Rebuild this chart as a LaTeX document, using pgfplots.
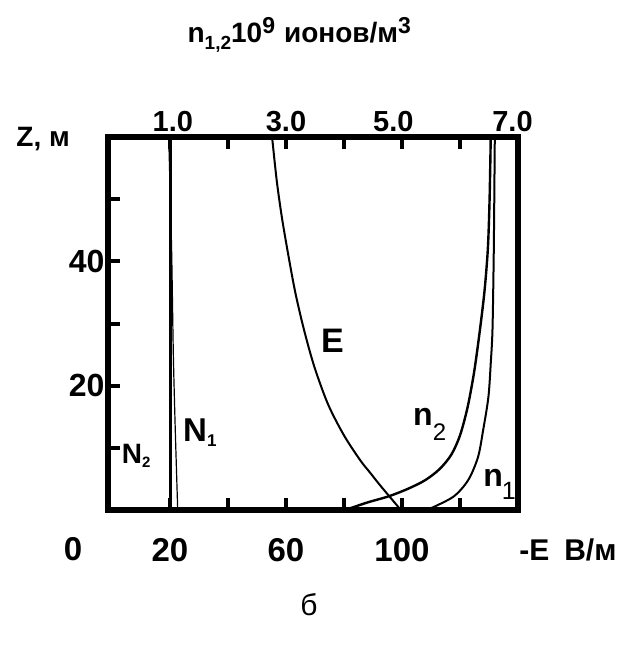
\documentclass[border=0pt]{standalone}
\usepackage{fontspec}
\setmainfont{Liberation Sans}
\usepackage{pgfplots}
\pgfplotsset{compat=1.18}

\newcommand{\fs}[1]{\fontsize{#1}{#1}\selectfont}

% field strength E, V/m (top scale: 1 unit = 20 V/m)
\pgfplotstableread{
x     z
4.98  0
4.80  2
4.62  4
4.45  6
4.28  8
4.00  12
3.725 17
3.49  23
3.31  29
3.16  35
3.04  41
2.93  47
2.84  53
2.76  60
}\Efield
% ion density n2
\pgfplotstableread{
x     z
4.02  0
4.40  1.2
4.77  2.2
5.10  3.4
5.40  4.8
5.65  6.6
5.85  8.9
6.00  12.0
6.13  16.5
6.24  22
6.33  28
6.42  35
6.48  42
6.51  50
6.53  60
}\ntwo
% ion density n1
\pgfplotstableread{
x     z
5.43  0
5.88  2.1
6.14  4.8
6.31  8.5
6.40  12.9
6.49  18.2
6.53  23.6
6.56  29
6.58  40
6.59  49
6.60  60
}\none
% N1 profile
\pgfplotstableread{
x     z
1.133 0
1.115 5.4
1.086 14.5
1.057 25.3
1.029 41.3
1.000 52
0.978 60
}\None

\begin{document}
\begin{tikzpicture}
\path[use as bounding box] (-108pt,-140pt) rectangle (511pt,510pt);
\begin{axis}[
  at={(0pt,0pt)}, anchor=south west,
  scale only axis, width=410pt, height=373pt,
  xmin=-0.069, xmax=7.0, ymin=0, ymax=60,
  clip=false,
  axis line style={line width=5.5pt, line cap=rect},
  major tick length=12pt,
  tick style={black, line width=4pt},
  tick align=inside,
  xtick={1,2,3,4,5,6}, xticklabels={20,,60,,100,},
  ytick={10,20,30,40,50}, yticklabels={,20,,40,},
  ytick pos=left, xtick pos=both,
  xticklabel pos=lower,
  /pgf/number format/assume math mode=true,
  xticklabel style={font=\fs{33}\bfseries, anchor=base, yshift=-51pt, inner sep=0pt},
  yticklabel style={font=\fs{32}\bfseries},
]
\addplot[line width=3pt] coordinates {(1.01,0) (1.01,60)};
\addplot[line width=1.2pt, smooth] table[x=x,y=z] {\None};
\addplot[line width=2pt, smooth] table[x=x,y=z] {\Efield};
\addplot[line width=2.4pt, smooth] table[x=x,y=z] {\ntwo};
\addplot[line width=2pt, smooth] table[x=x,y=z] {\none};

\node[anchor=base west, inner sep=0pt, font=\fs{34}\bfseries] at (axis cs:3.60,25.4) {E};
\node[anchor=base west, inner sep=0pt] at (axis cs:5.19,13.67)
  {\fs{32}\bfseries n\raisebox{-15pt}{\fs{24}\mdseries 2}};
\node[anchor=base west, inner sep=0pt] at (axis cs:6.40,3.70)
  {\fs{32}\bfseries n\kern-1pt\raisebox{-13pt}{\fs{25}\mdseries 1}};
\node[anchor=base west, inner sep=0pt] at (axis cs:1.224,10.94)
  {\fs{33}\bfseries N\raisebox{-5pt}{\fs{17}1}};
\node[anchor=base west, inner sep=0pt] at (axis cs:0.167,7.56)
  {\fs{28}\bfseries N\raisebox{-4pt}{\fs{15}2}};

\node[anchor=base east, inner sep=0pt, font=\fs{28}\bfseries] at (axis cs:-0.724,58.4) {Z, м};
\node[anchor=base, inner sep=0pt, font=\fs{33}\bfseries] at (axis cs:-0.672,-8.2) {0};
\node[anchor=base west, inner sep=0pt, font=\fs{30}\bfseries] at (axis cs:7.02,-8.2) {-E\hspace{0.5em}В/м};
\node[anchor=base, inner sep=0pt, font=\fs{30}] at (axis cs:3.397,-16.9) {б};

\node[anchor=base west, inner sep=0pt] at (axis cs:1.30,75.28)
  {\fs{28}\bfseries n\raisebox{-7pt}{\fs{19}1,2}10\raisebox{9pt}{\fs{23}9}\hspace{9pt}ионов/м\raisebox{9pt}{\fs{23}3}};
\end{axis}

% top scale: density, 10^9 ions per cubic metre
\begin{axis}[
  at={(0pt,0pt)}, anchor=south west,
  scale only axis, width=410pt, height=373pt,
  xmin=-0.069, xmax=7.0, ymin=0, ymax=60,
  axis line style={draw=none},
  major tick length=0pt, tick style={draw=none},
  ytick=\empty,
  xtick={1.05,3.0,4.85,6.905}, xticklabels={1.0,3.0,5.0,7.0},
  xticklabel pos=upper,
  xticklabel style={font=\fs{29}\bfseries, anchor=base, yshift=5pt, inner sep=0pt},
]
\end{axis}
\end{tikzpicture}
\end{document}
